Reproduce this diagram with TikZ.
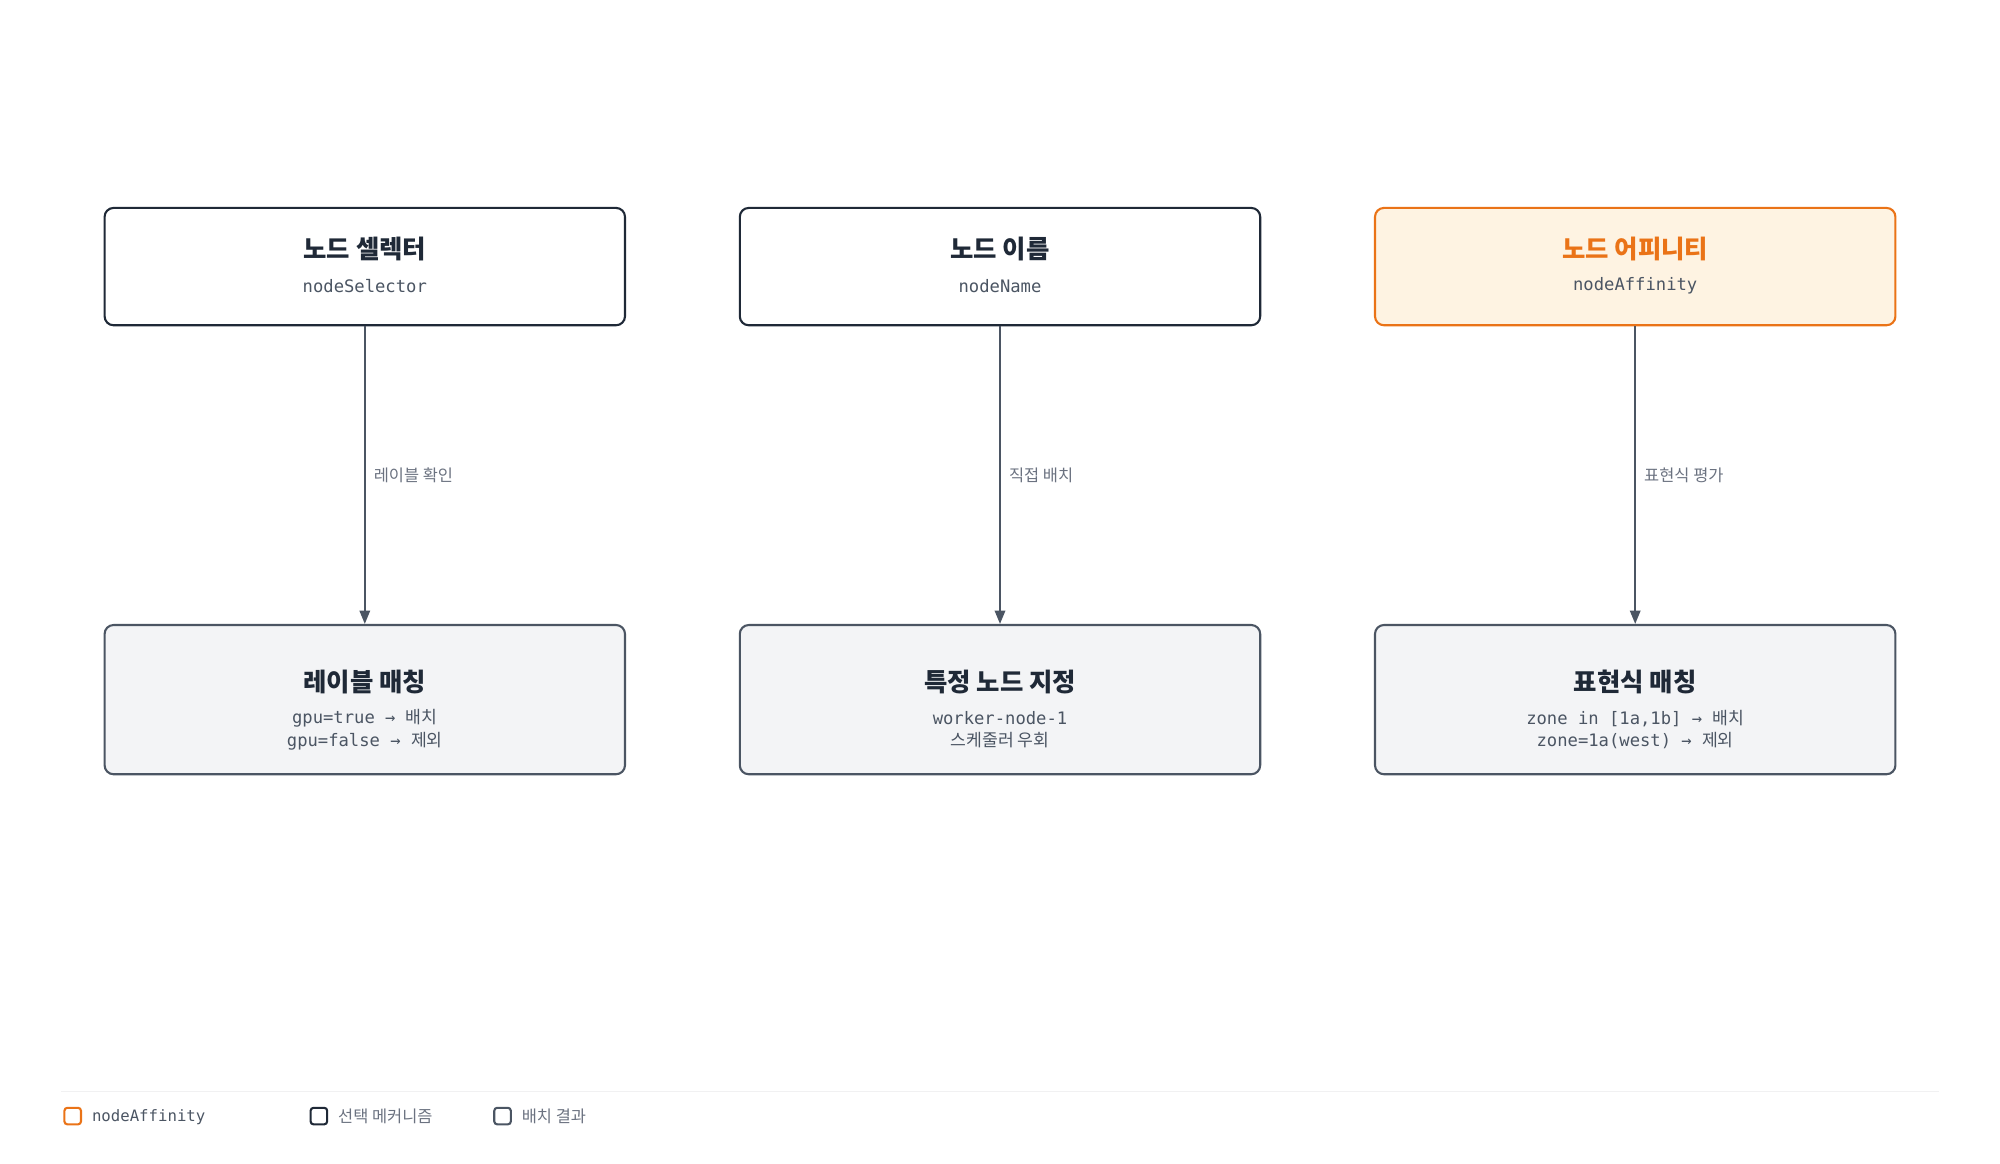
\documentclass[tikz,border=0pt]{standalone}
\usepackage{fontspec}
\setmainfont{Noto Sans CJK KR}
\newfontfamily\kr{Noto Sans CJK KR}
\setmonofont{DejaVu Sans Mono}
\usetikzlibrary{arrows.meta}
\definecolor{dk}{HTML}{1F2937}
\definecolor{gb}{HTML}{4B5563}
\definecolor{gf}{HTML}{F3F4F6}
\definecolor{org}{HTML}{EA7317}
\definecolor{of}{HTML}{FEF3E2}
\definecolor{lb}{HTML}{6B7280}
\begin{document}
\begin{tikzpicture}[x=0.03cm,y=-0.03cm,
 top/.style={draw=dk,line width=1.4pt,rounded corners=6pt,fill=white,minimum width=408*0.03cm,minimum height=92*0.03cm,align=center},
 bot/.style={draw=gb,line width=1.4pt,rounded corners=6pt,fill=gf,minimum width=408*0.03cm,minimum height=117*0.03cm,align=center},
 ttl/.style={font=\kr\bfseries\fontsize{17}{20}\selectfont,text=dk},
 arr/.style={draw=gb,line width=1.4pt,-{Triangle[length=9pt,width=7pt]}},
 lab/.style={font=\kr\fontsize{11}{13}\selectfont,text=lb,anchor=west},
 leg/.style={draw,line width=1.4pt,rounded corners=2pt,minimum size=13*0.03cm,inner sep=0pt}]
\useasboundingbox (0,0) rectangle (1568,912);
\node[top] (a) at (286,209) {};
\node[top] (b) at (784,209) {};
\node[top,draw=org,fill=of] (c) at (1282,209) {};
\node[ttl] at (286,195) {노드 셀렉터};
\node[font=\ttfamily\fontsize{11.5}{13}\selectfont,text=gb] at (286,224) {nodeSelector};
\node[ttl] at (784,195) {노드 이름};
\node[font=\ttfamily\fontsize{11.5}{13}\selectfont,text=gb] at (784,224) {nodeName};
\node[ttl,text=org] at (1282,195) {노드 어피니티};
\node[font=\ttfamily\fontsize{11.5}{13}\selectfont,text=gb] at (1282,224) {nodeAffinity};
\node[bot] (d) at (286,548.5) {};
\node[bot] (e) at (784,548.5) {};
\node[bot] (f) at (1282,548.5) {};
\node[ttl] at (286,535) {레이블 매칭};
\node[ttl] at (784,535) {특정 노드 지정};
\node[ttl] at (1282,535) {표현식 매칭};
\tikzset{cd/.style={font=\ttfamily\fontsize{11.5}{15}\selectfont,text=gb,align=center}}
\node[cd] at (286,572) {gpu=true → {\kr 배치}\\gpu=false → {\kr 제외}};
\node[cd] at (784,572) {worker-node-1\\{\kr 스케줄러 우회}};
\node[cd] at (1282,572) {zone in [1a,1b] → {\kr 배치}\\zone=1a(west) → {\kr 제외}};
\draw[arr] (a) -- (d) node[lab,pos=0.5,xshift=2pt] {레이블 확인};
\draw[arr] (b) -- (e) node[lab,pos=0.5,xshift=2pt] {직접 배치};
\draw[arr] (c) -- (f) node[lab,pos=0.5,xshift=2pt] {표현식 평가};
\draw[draw=gf!80!gray!40,line width=0.8pt] (48,856) -- (1520,856);
\node[leg,draw=org] (l1) at (57,875) {};
\node[anchor=west,font=\ttfamily\fontsize{10.5}{12}\selectfont,text=gb] at (68,876) {nodeAffinity};
\node[leg,draw=dk] (l2) at (250,875) {};
\node[lab] at (261,875) {선택 메커니즘};
\node[leg,draw=gb] (l3) at (394,875) {};
\node[lab] at (405,875) {배치 결과};
\end{tikzpicture}
\end{document}
